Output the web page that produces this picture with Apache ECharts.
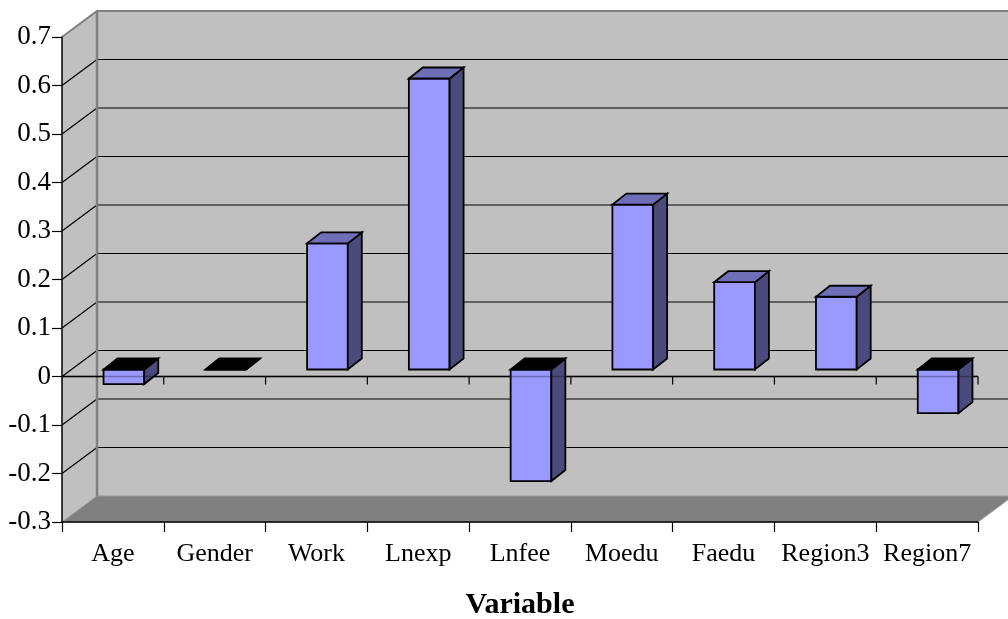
<!DOCTYPE html>
<html>
<head>
<meta charset="utf-8">
<script src="https://cdn.jsdelivr.net/npm/echarts@6/dist/echarts.min.js"></script>
<style>
  html, body { margin: 0; padding: 0; background: #ffffff; }
  #chart { width: 1008px; height: 619px; }
</style>
</head>
<body>
<div id="chart"></div>
<script>
// Regression coefficients by variable
const categories = ['Age', 'Gender', 'Work', 'Lnexp', 'Lnfee', 'Moedu', 'Faedu', 'Region3', 'Region7'];
const coefficients = [-0.03, 0, 0.26, 0.60, -0.23, 0.34, 0.18, 0.15, -0.09];
const yTickValues = [-0.3, -0.2, -0.1, 0, 0.1, 0.2, 0.3, 0.4, 0.5, 0.6, 0.7];

// Oblique projection used for the pseudo-3D look
const WALL_DX = 35, WALL_DY = -26;   // depth of the back wall
const BAR_DX = 11, BAR_DY = -7;      // bar front plane offset
const BOX_DX = 14, BOX_DY = -11;     // bar depth
const BAR_FRACTION = 0.4;

const FONT = "'Liberation Serif', 'Times New Roman', serif";

const chart = echarts.init(document.getElementById('chart'));

function renderWalls(params, api) {
  const cs = params.coordSys;
  const x0 = cs.x, x1 = cs.x + cs.width;
  const yTop = cs.y, yBot = cs.y + cs.height;
  const W = api.getWidth();
  const children = [];

  // side wall
  children.push({ type: 'polygon', shape: { points: [[x0, yTop], [x0 + WALL_DX, yTop + WALL_DY], [x0 + WALL_DX, yBot + WALL_DY], [x0, yBot]] },
    style: { fill: '#c0c0c0' } });
  // back wall
  children.push({ type: 'rect', shape: { x: x0 + WALL_DX, y: yTop + WALL_DY, width: W - x0 - WALL_DX + 5, height: yBot - yTop } ,
    style: { fill: '#c0c0c0' } });
  // floor
  children.push({ type: 'polygon', shape: { points: [[x0, yBot], [x1, yBot], [x1 + WALL_DX, yBot + WALL_DY], [x0 + WALL_DX, yBot + WALL_DY]] },
    style: { fill: '#808080', stroke: '#9a9a9a', lineWidth: 1 } });

  // gridlines on the back and side walls
  yTickValues.forEach(function (v) {
    if (v === yTickValues[0] || v === yTickValues[yTickValues.length - 1]) return;
    const y = api.coord([0, v])[1];
    children.push({ type: 'line', shape: { x1: x0 + WALL_DX, y1: y + WALL_DY, x2: W + 5, y2: y + WALL_DY },
      style: { stroke: '#000', lineWidth: 1.2 } });
    children.push({ type: 'line', shape: { x1: x0, y1: y, x2: x0 + WALL_DX, y2: y + WALL_DY },
      style: { stroke: '#000', lineWidth: 1.2 } });
  });

  // wall edges
  children.push({ type: 'polyline', shape: { points: [[x0, yTop], [x0 + WALL_DX, yTop + WALL_DY], [W + 5, yTop + WALL_DY]] },
    style: { stroke: '#808080', lineWidth: 2, fill: null } });
  children.push({ type: 'line', shape: { x1: x0 + WALL_DX, y1: yTop + WALL_DY, x2: x0 + WALL_DX, y2: yBot + WALL_DY },
    style: { stroke: '#808080', lineWidth: 2.5 } });

  // category axis crossing at zero (front plane)
  const y0 = api.coord([0, 0])[1];
  children.push({ type: 'line', shape: { x1: x0, y1: y0, x2: x1, y2: y0 }, style: { stroke: '#000', lineWidth: 1.5 } });
  const band = cs.width / categories.length;
  for (let i = 1; i <= categories.length; i++) {
    const x = x0 + i * band;
    children.push({ type: 'line', shape: { x1: x, y1: y0, x2: x, y2: y0 + 8 }, style: { stroke: '#000', lineWidth: 1.2 } });
  }
  return { type: 'group', children: children };
}

function renderBar(params, api) {
  const idx = api.value(0), v = api.value(1);
  const base = api.coord([idx, 0]);
  const tip = api.coord([idx, v]);
  const band = api.size([1, 0])[0];
  const w = band * BAR_FRACTION;
  const cx = base[0] + BAR_DX;
  const xa = cx - w / 2, xb = cx + w / 2;
  const ya = Math.min(base[1], tip[1]) + BAR_DY;
  const yb = Math.max(base[1], tip[1]) + BAR_DY;
  const edge = { stroke: '#000', lineWidth: 1.8, lineJoin: 'miter' };
  return {
    type: 'group',
    children: [
      { type: 'polygon', shape: { points: [[xa, ya], [xb, ya], [xb, yb], [xa, yb]] },
        style: Object.assign({ fill: '#9999ff' }, edge) },
      { type: 'polygon', shape: { points: [[xb, ya], [xb + BOX_DX, ya + BOX_DY], [xb + BOX_DX, yb + BOX_DY], [xb, yb]] },
        style: Object.assign({ fill: '#4a4a7c' }, edge) },
      { type: 'polygon', shape: { points: [[xa, ya], [xb, ya], [xb + BOX_DX, ya + BOX_DY], [xa + BOX_DX, ya + BOX_DY]] },
        style: Object.assign({ fill: v > 0 ? '#6f6fb8' : '#000000' }, edge) }
    ]
  };
}

function renderZeroOverlay(params, api) {
  const cs = params.coordSys;
  const y0 = api.coord([0, 0])[1];
  return { type: 'line', shape: { x1: cs.x, y1: y0, x2: cs.x + cs.width, y2: y0 },
    style: { stroke: 'rgba(0,0,0,0.3)', lineWidth: 1.5 } };
}

chart.setOption({
  animation: false,
  backgroundColor: '#ffffff',
  grid: { left: 62, right: 30, top: 37, bottom: 97, containLabel: false, outerBoundsMode: 'none' },
  xAxis: {
    type: 'category',
    data: categories,
    boundaryGap: true,
    axisLine: { onZero: false, lineStyle: { color: '#000', width: 1.5 } },
    axisTick: { show: true, length: 10, alignWithLabel: false, lineStyle: { color: '#000', width: 1.2 } },
    axisLabel: { interval: 0, margin: 19, color: '#000', fontFamily: FONT, fontSize: 26 },
    splitLine: { show: false },
    name: 'Variable',
    nameLocation: 'middle',
    nameGap: 68,
    nameTextStyle: { color: '#000', fontFamily: FONT, fontSize: 30, fontWeight: 'bold' }
  },
  yAxis: {
    type: 'value',
    min: yTickValues[0],
    max: yTickValues[yTickValues.length - 1],
    interval: 0.1,
    axisLine: { show: true, lineStyle: { color: '#000', width: 1.5 } },
    axisTick: { show: true, length: 10, lineStyle: { color: '#000', width: 1.2 } },
    axisLabel: {
      margin: 11, color: '#000', fontFamily: FONT, fontSize: 27,
      formatter: function (v) { return Math.abs(v) < 1e-9 ? '0' : String(+v.toFixed(1)); }
    },
    splitLine: { show: false }
  },
  series: [
    { type: 'custom', z: -1, renderItem: renderWalls, data: [0], silent: true },
    { type: 'custom', z: 2, renderItem: renderBar,
      data: coefficients.map(function (v, i) { return [i, v]; }),
      encode: { x: 0, y: 1 } },
    { type: 'custom', z: 3, renderItem: renderZeroOverlay, data: [0], silent: true }
  ]
});
</script>
</body>
</html>
